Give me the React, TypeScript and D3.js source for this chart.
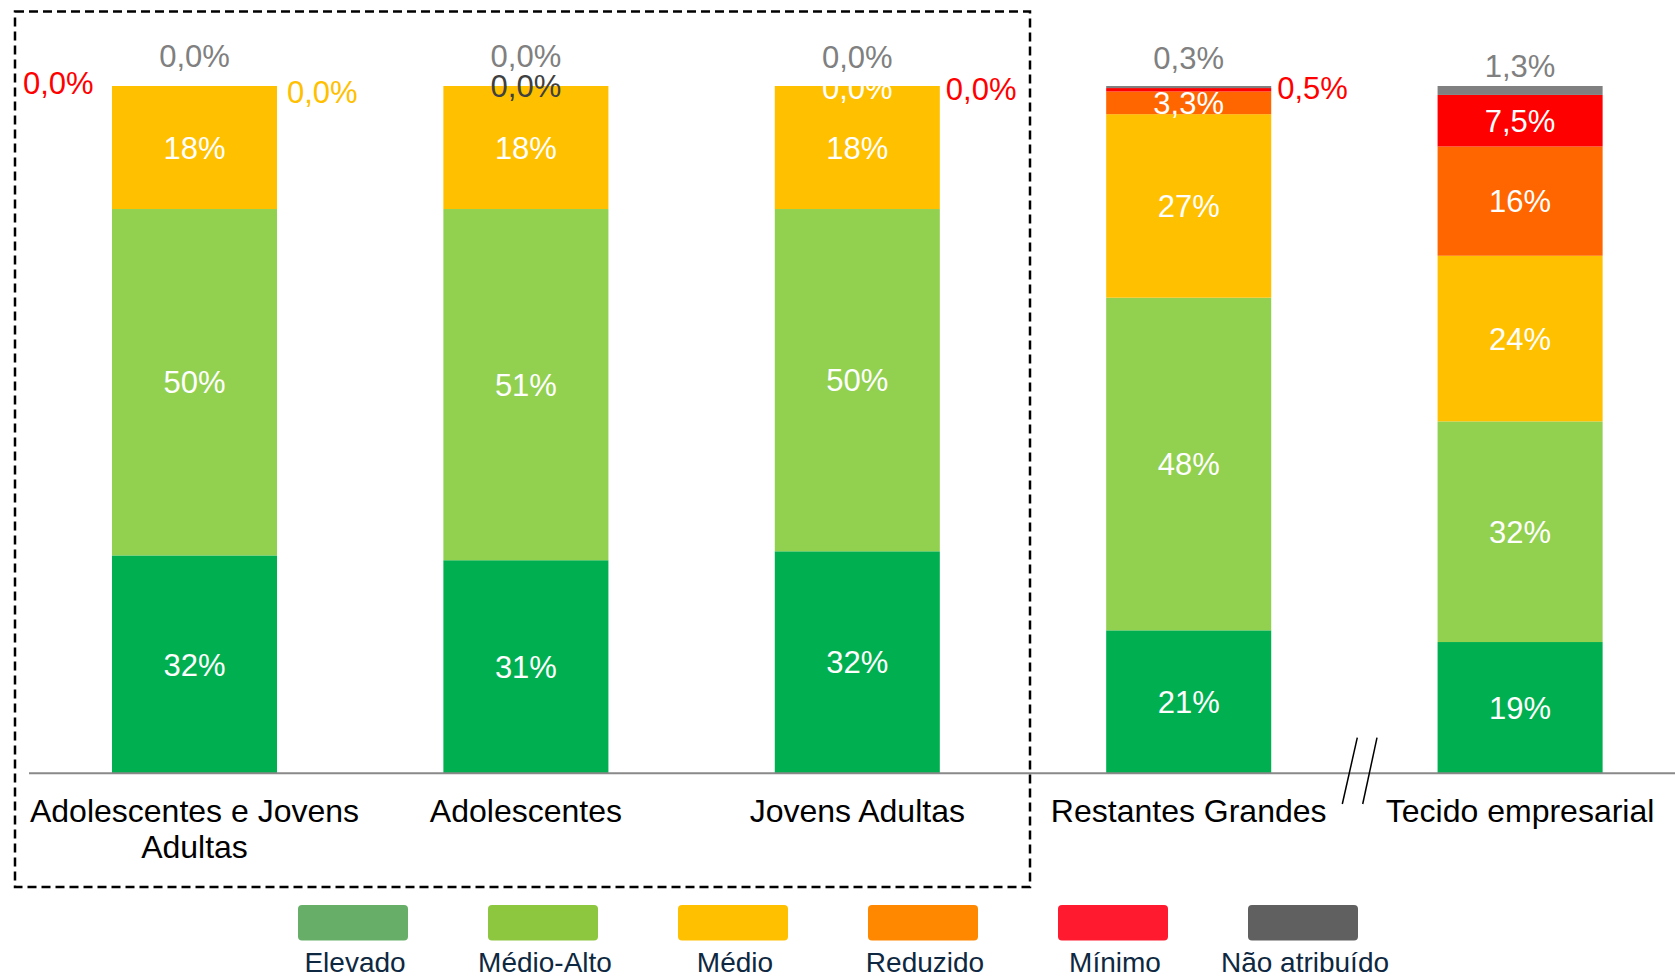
import React from "react";
import * as d3 from "d3";

const categories = [
  "Adolescentes e Jovens Adultas",
  "Adolescentes",
  "Jovens Adultas",
  "Restantes Grandes",
  "Tecido empresarial",
];
const categoryLines = [
  ["Adolescentes e Jovens", "Adultas"],
  ["Adolescentes"],
  ["Jovens Adultas"],
  ["Restantes Grandes"],
  ["Tecido empresarial"],
];

const seriesNames = ["Elevado", "Médio-Alto", "Médio", "Reduzido", "Mínimo", "Não atribuído"];
const elevado = [31.7, 31.0, 32.3, 20.8, 19.1];
const medioAlto = [50.4, 51.1, 49.8, 48.4, 32.1];
const medio = [17.9, 17.9, 17.9, 26.7, 24.1];
const reduzido = [0, 0, 0, 3.3, 15.9];
const minimo = [0, 0, 0, 0.5, 7.5];
const naoAtribuido = [0, 0, 0, 0.3, 1.3];

const barColors = ["#00B050", "#92D050", "#FFC000", "#FF6600", "#FF0000", "#808080"];
const legendColors = ["#67AF69", "#8DC63F", "#FFC000", "#FF8800", "#FF1A2F", "#606060"];

// special (small value) labels: category index, series index, placement, colour, vertical offset from segment top
const smallLabels = [
  { cat: 0, series: 4, pos: "left", color: "#FF0000", dy: -3.2 },
  { cat: 0, series: 3, pos: "right", color: "#FFC000", dy: 5.7 },
  { cat: 0, series: 5, pos: "center", color: "#808080", dy: -29.7 },
  { cat: 1, series: 5, pos: "center", color: "#808080", dy: -29.8 },
  { cat: 1, series: 4, pos: "center", color: "#404040", dy: 0.3 },
  { cat: 2, series: 5, pos: "center", color: "#808080", dy: -29.5 },
  { cat: 2, series: 3, pos: "center", color: "#FFFFFF", dy: 1.7 },
  { cat: 2, series: 4, pos: "right", color: "#FF0000", dy: 3.2 },
  { cat: 3, series: 5, pos: "center", color: "#808080", dy: -28.5 },
  { cat: 3, series: 4, pos: "right", color: "#FF0000", dy: -0.4 },
  { cat: 4, series: 5, pos: "center", color: "#808080", dy: -20.5 },
];

const W = 1675;
const H = 976;
const FONT = "'Liberation Sans', Arial, Helvetica, sans-serif";

function fmt(v: number) {
  if (v >= 10) return `${Math.round(v)}%`;
  return `${v.toFixed(1).replace(".", ",")}%`;
}

export default function App() {
  const seriesValues = [elevado, medioAlto, medio, reduzido, minimo, naoAtribuido];
  const rows = categories.map((c, i) => {
    const r: any = { cat: c };
    seriesNames.forEach((s, k) => (r[s] = seriesValues[k][i]));
    return r;
  });
  const stacked = d3.stack<any>().keys(seriesNames)(rows);

  const x = d3
    .scaleBand<string>()
    .domain(categories)
    .range([28.8, 1685.8])
    .paddingInner(0.502)
    .paddingOuter(0.251);
  const y = d3.scaleLinear().domain([0, 100]).range([773.3, 86]);
  const bw = x.bandwidth();

  const specialKey = new Set(smallLabels.map((l) => `${l.cat}-${l.series}`));

  const legendX = d3.scalePoint<string>().domain(seriesNames).range([353, 1303]);

  return (
    <div style={{ position: "absolute", left: 0, top: 0 }}>
      <svg width={W} height={H} style={{ display: "block", background: "#fff" }} fontFamily={FONT}>
        <rect x={0} y={0} width={W} height={H} fill="#fff" />
        {/* bars */}
        {stacked.map((layer, k) => (
          <g key={seriesNames[k]} fill={barColors[k]}>
            {layer.map((d, i) => {
              const h = y(d[0]) - y(d[1]);
              if (h <= 0) return null;
              return (
                <rect key={i} x={x(categories[i])} y={y(d[1])} width={bw} height={h} />
              );
            })}
          </g>
        ))}
        {/* inside labels */}
        {stacked.map((layer, k) =>
          layer.map((d, i) => {
            const v = d[1] - d[0];
            if (v <= 0 || specialKey.has(`${i}-${k}`)) return null;
            const cx = (x(categories[i]) as number) + bw / 2;
            const cy = (y(d[0]) + y(d[1])) / 2;
            return (
              <text key={`in-${k}-${i}`} x={cx} y={cy} dy="0.36em" textAnchor="middle" fontSize={31} fill="#fff">
                {fmt(seriesValues[k][i])}
              </text>
            );
          })
        )}
        {/* small / outside labels */}
        {smallLabels.map((l, j) => {
          const seg = stacked[l.series][l.cat];
          const top = y(seg[1]);
          const left = x(categories[l.cat]) as number;
          let tx = left + bw / 2;
          let anchor: any = "middle";
          if (l.pos === "left") {
            tx = left - 18.4;
            anchor = "end";
          } else if (l.pos === "right") {
            tx = left + bw + (l.cat === 0 ? 10 : 6);
            anchor = "start";
          }
          return (
            <text key={`sl-${j}`} x={tx} y={top + l.dy} dy="0.36em" textAnchor={anchor} fontSize={31} fill={l.color}>
              {fmt(seriesValues[l.series][l.cat])}
            </text>
          );
        })}
        {/* axis */}
        <line x1={29} x2={W} y1={773.3} y2={773.3} stroke="#898989" strokeWidth={2} />
        {/* break marks */}
        <line x1={1357.3} y1={737.7} x2={1342.3} y2={804} stroke="#000" strokeWidth={1.5} />
        <line x1={1377} y1={737.7} x2={1362.7} y2={804} stroke="#000" strokeWidth={1.5} />
        {/* category labels */}
        {categoryLines.map((lines, i) => (
          <text key={`cat-${i}`} textAnchor="middle" fontSize={32} fill="#000">
            {lines.map((ln, j) => (
              <tspan key={j} x={(x(categories[i]) as number) + bw / 2} y={821.5 + j * 36.5}>
                {ln}
              </tspan>
            ))}
          </text>
        ))}
        {/* dashed box */}
        <rect x={15} y={11.5} width={1015} height={875.5} fill="none" stroke="#000" strokeWidth={2.5} strokeDasharray="9 5" />
        {/* legend */}
        {seriesNames.map((s, k) => {
          const cx = legendX(s) as number;
          return (
            <g key={`lg-${k}`}>
              <rect x={cx - 55} y={905} width={110} height={35.5} rx={4} fill={legendColors[k]} />
              <text x={cx + 2} y={972} textAnchor="middle" fontSize={28} fill="#0E2841">
                {s}
              </text>
            </g>
          );
        })}
      </svg>
    </div>
  );
}
